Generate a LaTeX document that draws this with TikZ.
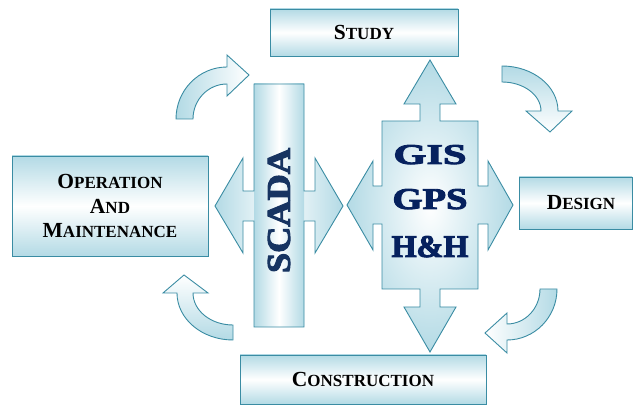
\documentclass[tikz,border=0pt]{standalone}
\usepackage{fontspec}
\setmainfont{Liberation Serif}
\newfontfamily\heavyfont[FakeBold=3]{Liberation Serif Bold}
\definecolor{edgec}{HTML}{3A8CA3}
\definecolor{fillb}{HTML}{B3DAE5}
\definecolor{navyc}{HTML}{06215E}
\definecolor{scadac}{HTML}{173461}
\newcommand\capsc[2]{{\fontsize{21.5}{24.5}\selectfont #1}{\fontsize{17}{20}\selectfont #2}}
\begin{document}
\begin{tikzpicture}[x=1pt,y=1pt,
  box/.style={draw=edgec, line width=0.9pt, top color=fillb, bottom color=fillb, middle color=white,
    font=\fontsize{21.5}{24.5}\selectfont\bfseries, inner sep=0pt},
  outl/.style={draw=edgec, line width=0.9pt},
  bigtext/.style={font=\heavyfont, inner sep=0pt, anchor=base}]
\useasboundingbox (0,0) rectangle (633,407);

% boxes
\node[box, minimum width=188pt, minimum height=47pt] (study) at (364,374.5) {\capsc{S}{TUDY}};
\node[box, minimum width=196pt, minimum height=100pt, align=center] (om) at (110,201)
  {\capsc{O}{PERATION}\\\capsc{A}{ND}\\\capsc{M}{AINTENANCE}};
\node[box, minimum width=113pt, minimum height=52pt] (design) at (575.5,204) {\hspace*{11pt}\capsc{D}{ESIGN}};
\node[box, minimum width=246pt, minimum height=49pt] (cons) at (363,27.5) {\capsc{C}{ONSTRUCTION}};

% SCADA bar with double arrow
\path[left color=fillb, right color=fillb, middle color=white]
  (254,323) -- (304,323) -- (304,216) -- (315,216) -- (315,249) -- (343,201) -- (315,154) -- (315,186)
  -- (304,186) -- (304,80) -- (254,80) -- (254,186) -- (243,186) -- (243,154) -- (215,201)
  -- (243,249) -- (243,216) -- (254,216) -- cycle;
\path[left color=fillb, right color=fillb, middle color=white] (254,80) rectangle (304,323);
\path[outl]
  (254,323) -- (304,323) -- (304,216) -- (315,216) -- (315,249) -- (343,201) -- (315,154) -- (315,186)
  -- (304,186) -- (304,80) -- (254,80) -- (254,186) -- (243,186) -- (243,154) -- (215,201)
  -- (243,249) -- (243,216) -- (254,216) -- cycle;
\node[rotate=90, text=scadac, font=\heavyfont, inner sep=0pt] (scada) at (279,196.5) {\resizebox{125pt}{22pt}{SCADA}};

% GIS cross
\path[outl, inner color=white, outer color=fillb]
  (382,286) -- (420,286) -- (420,303) -- (404,303) -- (430,347) -- (456,303) -- (440,303) -- (440,286)
  -- (478,286) -- (478,221) -- (488,221) -- (488,246) -- (513,202) -- (488,157) -- (488,183) -- (478,183)
  -- (478,118) -- (440,118) -- (440,100) -- (456,100) -- (430,55) -- (404,100) -- (420,100) -- (420,118)
  -- (382,118) -- (382,183) -- (373,183) -- (373,157) -- (347,202) -- (373,246) -- (373,221) -- (382,221)
  -- cycle;
\node[bigtext, text=navyc] (gis) at (430,243) {\resizebox{73pt}{19pt}{GIS}};
\node[bigtext, text=navyc] (gps) at (430,198) {\resizebox{75pt}{20pt}{GPS}};
\node[bigtext, text=navyc] (hh) at (430,150) {\resizebox{77pt}{21pt}{H\&H}};

% curved arrows
\path[outl, left color=fillb, right color=white]
  (176,288) arc[start angle=180, end angle=90, x radius=51pt, y radius=52pt] -- (227,352) -- (249,332)
  -- (227,311) -- (227,323) arc[start angle=90, end angle=180, x radius=34pt, y radius=35pt] -- cycle;
\path[outl, top color=fillb, bottom color=white]
  (502,341) arc[start angle=90, end angle=0, x radius=56pt, y radius=45pt] -- (572,296) -- (550,275)
  -- (526,296) -- (541,296) arc[start angle=0, end angle=90, x radius=39pt, y radius=29pt] -- cycle;
\path[outl, left color=white, right color=fillb]
  (557,118) arc[start angle=0, end angle=-90, x radius=50pt, y radius=51pt] -- (507,54) -- (485,74)
  -- (507,94) -- (507,83) arc[start angle=-90, end angle=0, x radius=33pt, y radius=35pt] -- cycle;
\path[outl, top color=white, bottom color=fillb]
  (233,67) arc[start angle=270, end angle=180, x radius=56pt, y radius=47pt] -- (163,114) -- (184,132)
  -- (208,114) -- (193,114) arc[start angle=180, end angle=270, x radius=40pt, y radius=32pt] -- cycle;
\end{tikzpicture}
\end{document}
